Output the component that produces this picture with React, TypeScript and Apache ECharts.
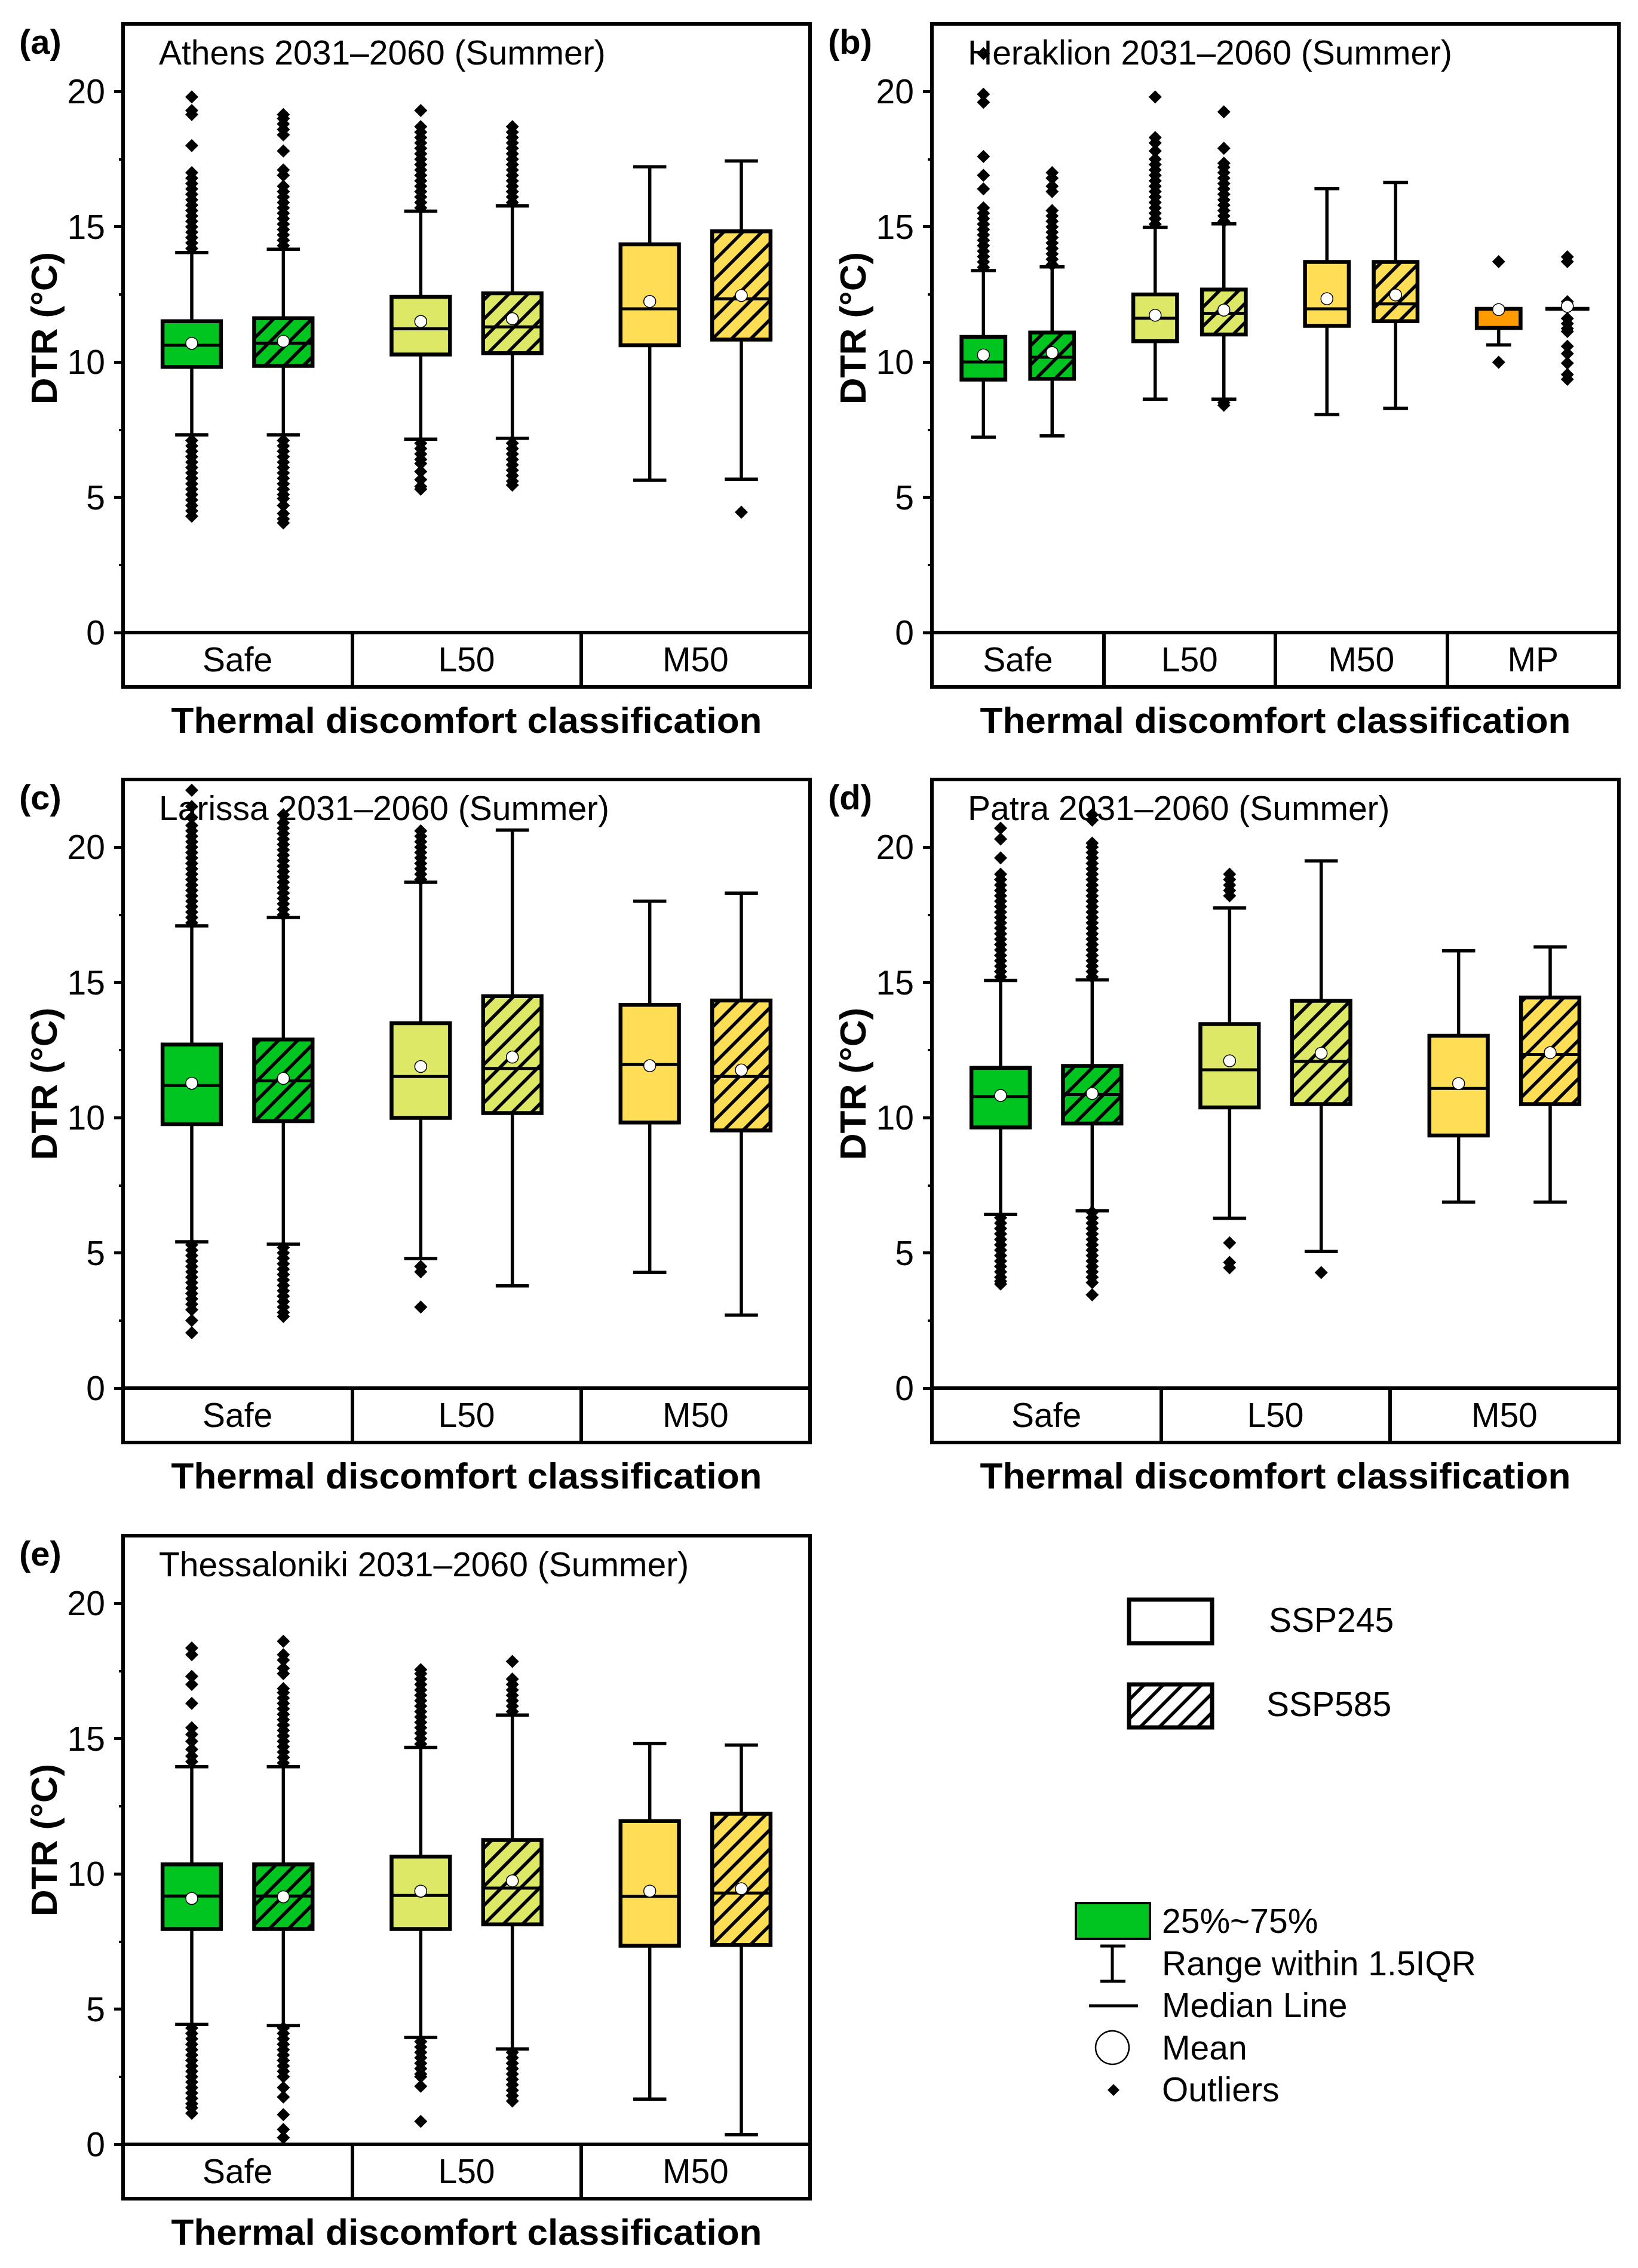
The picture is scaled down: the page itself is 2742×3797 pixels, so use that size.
import React, { useEffect, useRef } from 'react';
import * as echarts from 'echarts';

const FONT = '"Liberation Sans", Arial, Helvetica, sans-serif';

// ---------------- DATA ----------------
// Box statistics per category: [lower whisker, Q1, median, Q3, upper whisker, mean]
const athensCategories = ['Safe', 'L50', 'M50'];
const athensSsp245 = [
  [7.31, 9.82, 10.62, 11.51, 14.05, 10.69],
  [7.15, 10.28, 11.23, 12.41, 15.58, 11.5],
  [5.63, 10.62, 11.97, 14.35, 17.22, 12.24],
];
const athensSsp585 = [
  [7.31, 9.86, 10.7, 11.62, 14.17, 10.77],
  [7.18, 10.33, 11.3, 12.54, 15.77, 11.6],
  [5.67, 10.83, 12.34, 14.83, 17.43, 12.46],
];
const athensOutliers245 = [
  [14.2, 14.4, 14.6, 14.8, 15.0, 15.2, 15.4, 15.6, 15.8, 16.0, 16.2, 16.4, 16.6, 16.8, 17.0, 18.0, 19.15, 19.3, 19.8,
    7.1, 6.9, 6.7, 6.5, 6.3, 6.1, 5.9, 5.7, 5.5, 5.3, 5.1, 4.9, 4.7, 4.5, 4.3],
  [15.7, 15.9, 16.1, 16.3, 16.5, 16.7, 16.9, 17.1, 17.3, 17.5, 17.7, 17.9, 18.1, 18.3, 18.5, 18.7, 19.3,
    7.0, 6.8, 6.6, 6.4, 6.25, 5.95, 5.65, 5.4, 5.3],
  [],
];
const athensOutliers585 = [
  [14.3, 14.5, 14.7, 14.9, 15.1, 15.3, 15.5, 15.7, 15.9, 16.1, 16.3, 16.5, 16.9, 17.1, 17.8, 18.4, 18.6, 18.8, 19.0, 19.15,
    7.1, 6.9, 6.7, 6.5, 6.3, 6.1, 5.9, 5.7, 5.5, 5.3, 5.1, 4.95, 4.7, 4.4, 4.2, 4.05],
  [15.9, 16.1, 16.3, 16.5, 16.7, 16.9, 17.1, 17.3, 17.5, 17.7, 17.9, 18.1, 18.3, 18.5, 18.7,
    7.0, 6.8, 6.6, 6.4, 6.2, 6.0, 5.8, 5.6, 5.45],
  [4.45],
];

const heraklionCategories = ['Safe', 'L50', 'M50', 'MP'];
const heraklionSsp245 = [
  [7.22, 9.35, 10.0, 10.93, 13.38, 10.26],
  [8.63, 10.77, 11.62, 12.5, 14.98, 11.73],
  [8.06, 11.34, 11.97, 13.7, 16.41, 12.34],
  [10.63, 11.26, 11.97, 11.97, 11.97, 11.94],
];
const heraklionSsp585 = [
  [7.27, 9.38, 10.18, 11.09, 13.52, 10.35],
  [8.63, 11.02, 11.8, 12.68, 15.11, 11.92],
  [8.29, 11.51, 12.15, 13.7, 16.64, 12.48],
  [11.97, 11.97, 11.97, 11.97, 11.97, 12.06],
];
const heraklionOutliers245 = [
  [13.5, 13.7, 13.9, 14.1, 14.3, 14.5, 14.7, 14.9, 15.1, 15.3, 15.5, 15.7, 16.4, 16.9, 17.6, 19.6, 19.9, 21.4],
  [15.1, 15.3, 15.5, 15.7, 15.9, 16.1, 16.3, 16.5, 16.7, 16.9, 17.1, 17.3, 17.5, 17.8, 18.1, 18.3, 19.8],
  [],
  [13.71, 9.99],
];
const heraklionOutliers585 = [
  [13.6, 13.8, 14.0, 14.2, 14.4, 14.6, 14.8, 15.0, 15.2, 15.4, 15.6, 16.3, 16.5, 16.8, 17.0],
  [15.2, 15.4, 15.6, 15.8, 16.0, 16.2, 16.4, 16.6, 16.8, 17.0, 17.2, 17.35, 17.9, 19.25, 8.5, 8.4],
  [],
  [13.89, 13.71, 12.23, 11.61, 11.42, 11.24, 11.13, 10.58, 10.31, 9.96, 9.54, 9.36],
];

const larissaCategories = ['Safe', 'L50', 'M50'];
const larissaSsp245 = [
  [5.41, 9.76, 11.19, 12.7, 17.09, 11.27],
  [4.79, 9.99, 11.52, 13.49, 18.7, 11.89],
  [4.28, 9.82, 11.96, 14.17, 18.0, 11.92],
];
const larissaSsp585 = [
  [5.32, 9.87, 11.36, 12.89, 17.4, 11.45],
  [3.78, 10.17, 11.82, 14.49, 20.63, 12.24],
  [2.7, 9.53, 11.52, 14.33, 18.3, 11.76],
];
const larissaOutliers245 = [
  [17.2, 17.4, 17.6, 17.8, 18.0, 18.2, 18.4, 18.6, 18.8, 19.0, 19.2, 19.4, 19.6, 19.8, 20.0, 20.2, 20.4, 20.6, 20.8, 21.1, 21.5, 22.1,
    5.3, 5.1, 4.9, 4.7, 4.5, 4.3, 4.1, 3.9, 3.7, 3.5, 3.3, 3.1, 2.9, 2.5, 2.05],
  [18.8, 19.0, 19.2, 19.4, 19.6, 19.8, 20.0, 20.2, 20.4, 20.6, 4.5, 4.3, 3.0],
  [],
];
const larissaOutliers585 = [
  [17.5, 17.7, 17.9, 18.1, 18.3, 18.5, 18.7, 18.9, 19.1, 19.3, 19.5, 19.7, 19.9, 20.1, 20.3, 20.5, 20.7, 20.9, 21.2,
    5.2, 5.0, 4.8, 4.6, 4.4, 4.2, 4.0, 3.8, 3.6, 3.4, 3.2, 3.0, 2.8, 2.65],
  [],
  [],
];

const patraCategories = ['Safe', 'L50', 'M50'];
const patraSsp245 = [
  [6.42, 9.64, 10.78, 11.84, 15.07, 10.82],
  [6.28, 10.38, 11.77, 13.46, 17.75, 12.1],
  [6.88, 9.34, 11.08, 13.03, 16.17, 11.26],
];
const patraSsp585 = [
  [6.56, 9.78, 10.85, 11.91, 15.09, 10.89],
  [5.05, 10.5, 12.08, 14.32, 19.49, 12.38],
  [6.88, 10.5, 12.33, 14.44, 16.31, 12.4],
];
const patraOutliers245 = [
  [15.2, 15.4, 15.6, 15.8, 16.0, 16.2, 16.4, 16.6, 16.8, 17.0, 17.2, 17.4, 17.6, 17.8, 18.0, 18.2, 18.4, 18.6, 18.8, 19.0, 19.6, 20.3, 20.7,
    6.3, 6.1, 5.9, 5.7, 5.5, 5.3, 5.1, 4.9, 4.7, 4.5, 4.3, 4.1, 3.95, 3.85],
  [18.2, 18.4, 18.6, 18.8, 19.0, 5.37, 4.65, 4.45],
  [],
];
const patraOutliers585 = [
  [15.2, 15.4, 15.6, 15.8, 16.0, 16.2, 16.4, 16.6, 16.8, 17.0, 17.2, 17.4, 17.6, 17.8, 18.0, 18.2, 18.4, 18.6, 18.8, 19.0, 19.2, 19.4, 19.6, 19.8, 20.0, 20.15, 21.0, 21.2,
    6.5, 6.3, 6.1, 5.9, 5.7, 5.5, 5.3, 5.1, 4.9, 4.7, 4.5, 4.3, 4.1, 3.9, 3.45],
  [4.27],
  [],
];

const thessalonikiCategories = ['Safe', 'L50', 'M50'];
const thessalonikiSsp245 = [
  [4.43, 7.96, 9.18, 10.35, 13.96, 9.09],
  [3.95, 7.96, 9.2, 10.64, 14.67, 9.36],
  [1.67, 7.34, 9.17, 11.95, 14.82, 9.36],
];
const thessalonikiSsp585 = [
  [4.39, 7.96, 9.18, 10.35, 13.96, 9.15],
  [3.53, 8.13, 9.47, 11.25, 15.87, 9.74],
  [0.36, 7.37, 9.29, 12.22, 14.76, 9.45],
];
const thessalonikiOutliers245 = [
  [14.15, 14.35, 14.6, 14.9, 15.15, 15.4, 16.3, 17.0, 17.3, 18.1, 18.35,
    4.3, 4.1, 3.9, 3.7, 3.5, 3.3, 3.1, 2.9, 2.7, 2.5, 2.3, 2.1, 1.9, 1.7, 1.5, 1.35, 1.15],
  [14.8, 15.0, 15.2, 15.4, 15.6, 15.8, 16.0, 16.2, 16.4, 16.6, 16.8, 17.0, 17.2, 17.4, 17.55,
    3.8, 3.6, 3.4, 3.2, 3.0, 2.8, 2.6, 2.5, 2.15, 0.85],
  [],
];
const thessalonikiOutliers585 = [
  [14.1, 14.3, 14.5, 14.7, 14.9, 15.1, 15.3, 15.5, 15.7, 15.9, 16.1, 16.3, 16.5, 16.7, 16.85, 17.4, 17.6, 17.9, 18.1, 18.6,
    4.3, 4.1, 3.9, 3.7, 3.5, 3.3, 3.1, 2.9, 2.7, 2.5, 2.1, 1.75, 1.1, 0.55, 0.25],
  [16.0, 16.2, 16.4, 16.6, 16.8, 17.0, 17.2, 17.85, 3.4, 3.2, 3.0, 2.8, 2.6, 2.4, 2.2, 2.0, 1.8, 1.6],
  [],
];

const yTickValues = [0, 5, 10, 15, 20];
const yMinorTickValues = [2.5, 7.5, 12.5, 17.5];
const Y_MAX = 22.5;

// ---------------- STYLE / LAYOUT ----------------
const CATEGORY_COLORS: Record<string, string> = {
  Safe: '#00C41F',
  L50: '#DDE866',
  M50: '#FFDE55',
  MP: '#FF9A00',
};
const SCENARIO_OFFSETS = [0.3, 0.7];
const BOX_FRAC = 0.255;
const CAP_FRAC = 0.145;
const HATCH_SPACING = 32;
const HATCH_WIDTH = 5.5;
const GRID_W = 1150;
const GRID_H = 1019;
const BAND_H = 91;

const panels = [
  { label: '(a)', title: 'Athens 2031\u20132060 (Summer)', cats: athensCategories, b245: athensSsp245, b585: athensSsp585, o245: athensOutliers245, o585: athensOutliers585 },
  { label: '(b)', title: 'Heraklion 2031\u20132060 (Summer)', cats: heraklionCategories, b245: heraklionSsp245, b585: heraklionSsp585, o245: heraklionOutliers245, o585: heraklionOutliers585 },
  { label: '(c)', title: 'Larissa 2031\u20132060 (Summer)', cats: larissaCategories, b245: larissaSsp245, b585: larissaSsp585, o245: larissaOutliers245, o585: larissaOutliers585 },
  { label: '(d)', title: 'Patra 2031\u20132060 (Summer)', cats: patraCategories, b245: patraSsp245, b585: patraSsp585, o245: patraOutliers245, o585: patraOutliers585 },
  { label: '(e)', title: 'Thessaloniki 2031\u20132060 (Summer)', cats: thessalonikiCategories, b245: thessalonikiSsp245, b585: thessalonikiSsp585, o245: thessalonikiOutliers245, o585: thessalonikiOutliers585 },
];
const panelLayout = [
  { left: 206, top: 40 },
  { left: 1560, top: 40 },
  { left: 206, top: 1305 },
  { left: 1560, top: 1305 },
  { left: 206, top: 2571 },
];

function hatchSegments(x0: number, y0: number, x1: number, y1: number, s: number) {
  const segs: any[] = [];
  const cStart = Math.ceil((x0 + y0) / s) * s;
  for (let c = cStart; c <= x1 + y1; c += s) {
    const xa = Math.max(x0, c - y1);
    const xb = Math.min(x1, c - y0);
    if (xb - xa > 0.5) segs.push({ x1: xa, y1: c - xa, x2: xb, y2: c - xb });
  }
  return segs;
}

function makeRenderItem(cats: string[], hatched: boolean) {
  return (params: any, api: any) => {
    const x = api.value(0);
    const lo = api.value(1);
    const q1 = api.value(2);
    const md = api.value(3);
    const q3 = api.value(4);
    const hi = api.value(5);
    const unit = api.size([1, 0])[0];
    const bw = unit * BOX_FRAC;
    const cw = unit * CAP_FRAC;
    const pLo = api.coord([x, lo]);
    const cx = pLo[0];
    const yLo = pLo[1];
    const yQ1 = api.coord([x, q1])[1];
    const yMd = api.coord([x, md])[1];
    const yQ3 = api.coord([x, q3])[1];
    const yHi = api.coord([x, hi])[1];
    const color = CATEGORY_COLORS[cats[params.dataIndex]] || '#ccc';
    const ws = { stroke: '#000', lineWidth: 5.5, fill: null };
    const children: any[] = [
      { type: 'line', shape: { x1: cx, y1: yHi, x2: cx, y2: yQ3 }, style: ws },
      { type: 'line', shape: { x1: cx, y1: yQ1, x2: cx, y2: yLo }, style: ws },
      { type: 'line', shape: { x1: cx - cw / 2, y1: yHi, x2: cx + cw / 2, y2: yHi }, style: ws },
      { type: 'line', shape: { x1: cx - cw / 2, y1: yLo, x2: cx + cw / 2, y2: yLo }, style: ws },
      { type: 'rect', shape: { x: cx - bw / 2, y: yQ3, width: bw, height: yQ1 - yQ3 }, style: { fill: color, stroke: null } },
    ];
    if (hatched && yQ1 - yQ3 > 1) {
      hatchSegments(cx - bw / 2, yQ3, cx + bw / 2, yQ1, HATCH_SPACING).forEach((sg) => {
        children.push({ type: 'line', shape: sg, style: { stroke: '#000', lineWidth: HATCH_WIDTH, fill: null } });
      });
    }
    children.push({ type: 'rect', shape: { x: cx - bw / 2, y: yQ3, width: bw, height: yQ1 - yQ3 }, style: { fill: null, stroke: '#000', lineWidth: 6.5 } });
    children.push({ type: 'line', shape: { x1: cx - bw / 2, y1: yMd, x2: cx + bw / 2, y2: yMd }, style: { stroke: '#000', lineWidth: 5, fill: null } });
    return { type: 'group', children };
  };
}

function textEl(text: string, x: number, y: number, size: number, bold = false, align = 'left') {
  return {
    type: 'text',
    x,
    y,
    silent: true,
    style: {
      text,
      fill: '#000',
      fontSize: size,
      fontFamily: FONT,
      fontWeight: bold ? 'bold' : 'normal',
      align,
      verticalAlign: 'middle',
      textAlign: align,
      textVerticalAlign: 'middle',
    },
  };
}

function buildOption() {
  const grid: any[] = [];
  const xAxis: any[] = [];
  const yAxis: any[] = [];
  const series: any[] = [];
  const graphic: any[] = [];

  panels.forEach((p, pi) => {
    const lay = panelLayout[pi];
    const n = p.cats.length;
    grid.push({
      left: lay.left, top: lay.top, width: GRID_W, height: GRID_H,
      show: true, borderColor: '#000', borderWidth: 6, backgroundColor: 'transparent',
      containLabel: false, outerBoundsMode: 'none',
    });
    // value axis for placement (hidden)
    xAxis.push({ gridIndex: pi, type: 'value', min: 0, max: n, show: false, position: 'top', axisLine: { onZero: false } });
    // category axis with labels and band separators
    xAxis.push({
      gridIndex: pi, type: 'category', data: p.cats, position: 'bottom', boundaryGap: true,
      axisLine: { show: true, onZero: false, lineStyle: { color: '#000', width: 6 } },
      axisTick: { show: true, interval: 0, alignWithLabel: false, length: BAND_H, lineStyle: { color: '#000', width: 6 } },
      axisLabel: { show: true, interval: 0, margin: 45, verticalAlign: 'middle', fontSize: 57, color: '#000', fontFamily: FONT },
      splitLine: { show: false },
      name: 'Thermal discomfort classification', nameLocation: 'middle', nameGap: 115, nameMoveOverlap: false,
      nameTextStyle: { fontSize: 62, fontWeight: 'bold', color: '#000', fontFamily: FONT },
    });
    // band bottom line
    xAxis.push({
      gridIndex: pi, type: 'category', data: p.cats, position: 'bottom', offset: BAND_H,
      axisLine: { show: true, onZero: false, lineStyle: { color: '#000', width: 6, cap: 'square' } },
      axisTick: { show: false }, axisLabel: { show: false }, splitLine: { show: false },
    });
    yAxis.push({
      gridIndex: pi, type: 'value', min: 0, max: Y_MAX, interval: 5, position: 'left',
      axisLine: { show: true, onZero: false, lineStyle: { color: '#000', width: 6 } },
      axisTick: { show: true, inside: false, length: 15, customValues: yTickValues, lineStyle: { color: '#000', width: 5 } },
      axisLabel: {
        show: true, customValues: yTickValues, fontSize: 57, margin: 30, color: '#000', fontFamily: FONT,
        formatter: (v: number) => (v % 5 === 0 ? String(v) : ''),
      },
      splitLine: { show: false },
      name: 'DTR (\u00B0C)', nameLocation: 'middle', nameGap: 102, nameRotate: 90, nameMoveOverlap: false,
      nameTextStyle: { fontSize: 62, fontWeight: 'bold', color: '#000', fontFamily: FONT },
    });
    yAxis.push({
      gridIndex: pi, type: 'value', min: 0, max: Y_MAX, interval: 2.5, position: 'left',
      axisLine: { show: false, onZero: false },
      axisTick: { show: true, inside: false, length: 7, customValues: yMinorTickValues, lineStyle: { color: '#000', width: 4 } },
      axisLabel: { show: false }, splitLine: { show: false },
    });

    const xIdx = pi * 3;
    const yIdx = pi * 2;
    const scen = [
      { name: 'SSP245', boxes: p.b245, outs: p.o245, hatched: false, off: SCENARIO_OFFSETS[0] },
      { name: 'SSP585', boxes: p.b585, outs: p.o585, hatched: true, off: SCENARIO_OFFSETS[1] },
    ];
    scen.forEach((s) => {
      series.push({
        type: 'custom', name: s.name, xAxisIndex: xIdx, yAxisIndex: yIdx, silent: true, z: 2,
        renderItem: makeRenderItem(p.cats, s.hatched),
        encode: { x: 0, y: [1, 2, 3, 4, 5] },
        data: s.boxes.map((b, i) => [i + s.off, b[0], b[1], b[2], b[3], b[4]]),
      });
    });
    scen.forEach((s) => {
      series.push({
        type: 'scatter', name: s.name + ' outliers', xAxisIndex: xIdx, yAxisIndex: yIdx, silent: true, z: 3,
        symbol: 'diamond', symbolSize: 22, itemStyle: { color: '#000', opacity: 1 },
        data: s.outs.flatMap((list, i) => list.map((v) => [i + s.off, v])),
      });
    });
    scen.forEach((s) => {
      series.push({
        type: 'scatter', name: s.name + ' mean', xAxisIndex: xIdx, yAxisIndex: yIdx, silent: true, z: 4,
        symbol: 'circle', symbolSize: 20, itemStyle: { color: '#fff', borderColor: '#000', borderWidth: 1.5, opacity: 1 },
        data: s.boxes.map((b, i) => [i + s.off, b[5]]),
      });
    });

    graphic.push(textEl(p.label, lay.left - 174, lay.top + 29, 58, true));
    graphic.push(textEl(p.title, lay.left + 60, lay.top + 48, 57));
  });

  // legend (scenario)
  graphic.push({ type: 'rect', silent: true, shape: { x: 1890, y: 2678, width: 139, height: 73 }, style: { fill: '#fff', stroke: '#000', lineWidth: 7 } });
  graphic.push(textEl('SSP245', 2124, 2712, 57));
  graphic.push({ type: 'rect', silent: true, shape: { x: 1890, y: 2820, width: 139, height: 72 }, style: { fill: '#fff', stroke: null } });
  hatchSegments(1890, 2820, 2029, 2892, HATCH_SPACING).forEach((sg) => {
    graphic.push({ type: 'line', silent: true, shape: sg, style: { stroke: '#000', lineWidth: HATCH_WIDTH } });
  });
  graphic.push({ type: 'rect', silent: true, shape: { x: 1890, y: 2820, width: 139, height: 72 }, style: { fill: null, stroke: '#000', lineWidth: 7 } });
  graphic.push(textEl('SSP585', 2120, 2853, 57));

  // legend (box elements)
  graphic.push({ type: 'rect', silent: true, shape: { x: 1801, y: 3186, width: 124, height: 60 }, style: { fill: CATEGORY_COLORS.Safe, stroke: '#000', lineWidth: 4 } });
  graphic.push(textEl('25%~75%', 1945, 3216, 57));
  graphic.push({ type: 'line', silent: true, shape: { x1: 1862, y1: 3258, x2: 1862, y2: 3317 }, style: { stroke: '#000', lineWidth: 5 } });
  graphic.push({ type: 'line', silent: true, shape: { x1: 1842, y1: 3258, x2: 1884, y2: 3258 }, style: { stroke: '#000', lineWidth: 5 } });
  graphic.push({ type: 'line', silent: true, shape: { x1: 1842, y1: 3317, x2: 1884, y2: 3317 }, style: { stroke: '#000', lineWidth: 5 } });
  graphic.push(textEl('Range within 1.5IQR', 1945, 3287, 57));
  graphic.push({ type: 'line', silent: true, shape: { x1: 1823, y1: 3358, x2: 1905, y2: 3358 }, style: { stroke: '#000', lineWidth: 5 } });
  graphic.push(textEl('Median Line', 1945, 3357, 57));
  graphic.push({ type: 'circle', silent: true, shape: { cx: 1862, cy: 3428, r: 28 }, style: { fill: '#fff', stroke: '#000', lineWidth: 2.5 } });
  graphic.push(textEl('Mean', 1945, 3428, 57));
  graphic.push({ type: 'polygon', silent: true, shape: { points: [[1864, 3489], [1874, 3499], [1864, 3509], [1854, 3499]] }, style: { fill: '#000' } });
  graphic.push(textEl('Outliers', 1945, 3498, 57));

  return {
    animation: false,
    backgroundColor: '#fff',
    textStyle: { fontFamily: FONT },
    grid,
    xAxis,
    yAxis,
    series,
    graphic: { elements: graphic },
  };
}

export default function App() {
  const ref = useRef<HTMLDivElement>(null);
  useEffect(() => {
    if (!ref.current) return;
    const chart = echarts.init(ref.current, undefined, { renderer: 'svg' });
    chart.setOption(buildOption() as any);
    return () => {
      chart.dispose();
    };
  }, []);
  return (
    <div
      ref={ref}
      style={{ position: 'absolute', left: 0, top: 0, width: 2742, height: 3797, background: '#fff' }}
    />
  );
}
